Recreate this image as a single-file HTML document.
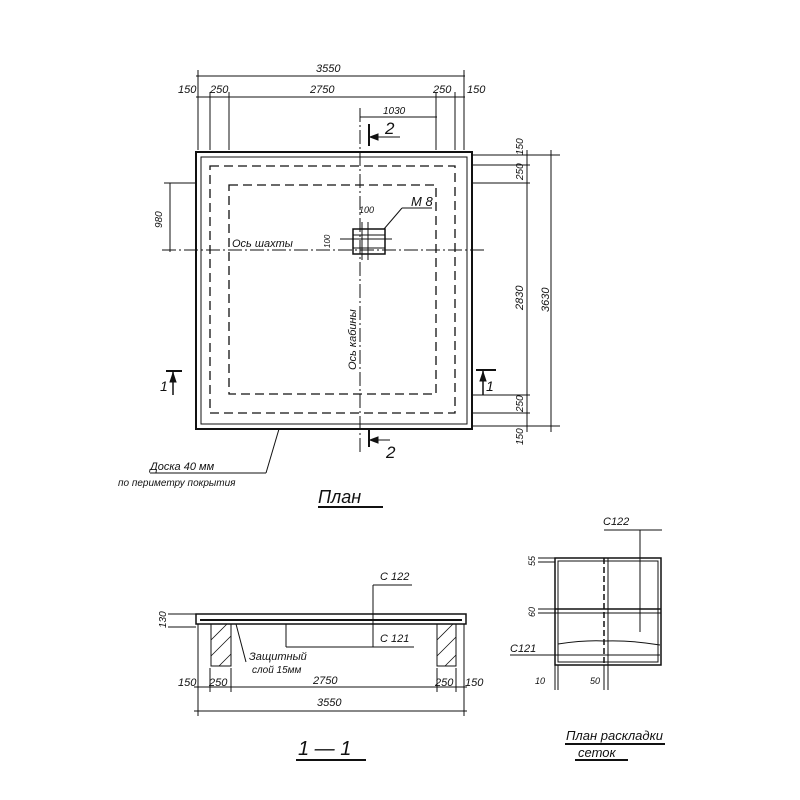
<!DOCTYPE html>
<html><head><meta charset="utf-8"><style>
html,body{margin:0;padding:0;background:#fff}
svg{display:block}
text{font-family:"Liberation Sans","DejaVu Sans",sans-serif;font-style:italic;fill:#111}
</style></head><body>
<svg width="800" height="800" viewBox="0 0 800 800" xmlns="http://www.w3.org/2000/svg">
<g stroke="#111" fill="none" stroke-width="1">
<line x1="196" y1="76" x2="465" y2="76"/>
<line x1="196" y1="97" x2="465" y2="97"/>
<line x1="198" y1="70" x2="198" y2="150"/>
<line x1="464" y1="70" x2="464" y2="150"/>
<line x1="210" y1="92" x2="210" y2="150"/>
<line x1="229" y1="92" x2="229" y2="150"/>
<line x1="436" y1="92" x2="436" y2="150"/>
<line x1="455" y1="92" x2="455" y2="150"/>
<line x1="360" y1="117" x2="437" y2="117"/>
<line x1="369" y1="124" x2="369" y2="146" stroke-width="2"/>
<line x1="369" y1="137" x2="400" y2="137"/>
<path d="M370 137 L378 134 L378 140 Z" fill="#111"/>
<line x1="369" y1="430" x2="369" y2="447" stroke-width="2"/>
<line x1="369" y1="440" x2="390" y2="440"/>
<path d="M370 440 L378 437 L378 443 Z" fill="#111"/>
<rect x="196" y="152" width="276" height="277" stroke-width="2"/>
<rect x="201" y="157" width="266" height="267" stroke-width="1"/>
<rect x="210" y="166" width="245" height="247" stroke-dasharray="9,5" stroke-width="1.3"/>
<rect x="229" y="185" width="207" height="209" stroke-dasharray="9,5" stroke-width="1.3"/>
<line x1="360" y1="108" x2="360" y2="452" stroke-dasharray="14,3,2,3"/>
<line x1="162" y1="250" x2="485" y2="250" stroke-dasharray="14,3,2,3"/>
<line x1="170" y1="183" x2="170" y2="252"/>
<line x1="164" y1="183" x2="195" y2="183"/>
<rect x="353" y="229" width="32" height="25" stroke-width="1.5"/>
<line x1="353" y1="235" x2="385" y2="235"/>
<line x1="353" y1="248" x2="385" y2="248"/>
<line x1="362" y1="222" x2="362" y2="260"/><line x1="368" y1="222" x2="368" y2="260"/>
<line x1="340" y1="239" x2="392" y2="239"/>
<line x1="384" y1="229" x2="402" y2="208"/><line x1="402" y1="208" x2="432" y2="208"/>
<line x1="472" y1="155" x2="560" y2="155"/>
<line x1="472" y1="165" x2="530" y2="165"/>
<line x1="472" y1="183" x2="530" y2="183"/>
<line x1="472" y1="395" x2="530" y2="395"/>
<line x1="472" y1="413" x2="530" y2="413"/>
<line x1="472" y1="426" x2="560" y2="426"/>
<line x1="527" y1="150" x2="527" y2="432"/>
<line x1="551" y1="150" x2="551" y2="432"/>
<line x1="166" y1="371" x2="182" y2="371" stroke-width="2"/><line x1="173" y1="371" x2="173" y2="395" stroke-width="1.5"/>
<path d="M173 373 L170 382 L176 382 Z" fill="#111"/>
<line x1="476" y1="370" x2="496" y2="370" stroke-width="2"/><line x1="483" y1="370" x2="483" y2="395" stroke-width="1.5"/>
<path d="M483 372 L480 381 L486 381 Z" fill="#111"/>
<line x1="150" y1="473" x2="266" y2="473"/><line x1="266" y1="473" x2="279" y2="429"/>
<line x1="318" y1="507" x2="383" y2="507" stroke-width="2"/>
<rect x="196" y="614" width="270" height="10" stroke-width="1.5"/>
<line x1="200" y1="620" x2="462" y2="620" stroke-width="2"/>
<rect x="211" y="624" width="20" height="42"/>
<rect x="437" y="624" width="19" height="42"/>
<g stroke-width="0.8">
<line x1="211" y1="640" x2="227" y2="624"/><line x1="211" y1="656" x2="231" y2="636"/><line x1="219" y1="666" x2="231" y2="654"/>
<line x1="437" y1="640" x2="453" y2="624"/><line x1="437" y1="656" x2="456" y2="637"/><line x1="445" y1="666" x2="456" y2="655"/>
</g>
<line x1="373" y1="585" x2="373" y2="647"/><line x1="373" y1="585" x2="412" y2="585"/>
<line x1="286" y1="624" x2="286" y2="647"/><line x1="286" y1="647" x2="414" y2="647"/>
<line x1="236" y1="624" x2="246" y2="662"/>
<line x1="194" y1="687" x2="467" y2="687"/>
<line x1="194" y1="711" x2="467" y2="711"/>
<line x1="198" y1="624" x2="198" y2="716"/><line x1="464" y1="624" x2="464" y2="716"/>
<line x1="210" y1="668" x2="210" y2="692"/><line x1="231" y1="668" x2="231" y2="692"/>
<line x1="437" y1="668" x2="437" y2="692"/><line x1="456" y1="668" x2="456" y2="692"/>
<line x1="168" y1="614" x2="196" y2="614"/><line x1="168" y1="627" x2="196" y2="627"/>
<line x1="296" y1="760" x2="366" y2="760" stroke-width="2"/>
<rect x="555" y="558" width="106" height="107" stroke-width="1.5"/>
<rect x="558" y="561" width="100" height="101"/>
<line x1="555" y1="609" x2="661" y2="609" stroke-width="1.5"/><line x1="555" y1="613" x2="661" y2="613"/>
<line x1="604" y1="558" x2="604" y2="665" stroke-dasharray="6,3" stroke-width="1.5"/>
<line x1="608" y1="558" x2="608" y2="665"/>
<line x1="640" y1="530" x2="640" y2="632"/><line x1="604" y1="530" x2="662" y2="530"/>
<path d="M558 644 Q585 640 604 641 Q630 640 660 645"/>
<line x1="510" y1="655" x2="660" y2="655"/>
<line x1="538" y1="558" x2="555" y2="558"/><line x1="538" y1="562" x2="555" y2="562"/>
<line x1="538" y1="609" x2="555" y2="609"/><line x1="538" y1="613" x2="555" y2="613"/>
<line x1="555" y1="665" x2="555" y2="690"/><line x1="558" y1="665" x2="558" y2="690"/>
<line x1="604" y1="665" x2="604" y2="690"/><line x1="608" y1="665" x2="608" y2="690"/>
<line x1="565" y1="744" x2="665" y2="744" stroke-width="2"/>
<line x1="575" y1="760" x2="628" y2="760" stroke-width="2"/>
</g>
<g font-size="11">
<text x="316" y="72">3550</text>
<text x="178" y="93">150</text><text x="210" y="93">250</text><text x="310" y="93">2750</text>
<text x="433" y="93">250</text><text x="467" y="93">150</text>
<text x="383" y="114" font-size="10">1030</text>
<text x="232" y="247" font-size="11">Ось шахты</text>
<text x="411" y="206" font-size="13">М 8</text>
<text x="359" y="213" font-size="9">100</text>
<text x="313" y="684" font-size="11">2750</text>
<text x="317" y="706">3550</text>
<text x="178" y="686">150</text><text x="209" y="686">250</text>
<text x="435" y="686">250</text><text x="465" y="686">150</text>
<text x="380" y="580">С 122</text>
<text x="380" y="642">С 121</text>
<text x="249" y="660">Защитный</text>
<text x="252" y="673" font-size="10">слой 15мм</text>
<text x="603" y="525">С122</text>
<text x="510" y="652">С121</text>
<text x="535" y="684" font-size="9">10</text><text x="590" y="684" font-size="9">50</text>
<text x="150" y="470">Доска 40 мм</text>
<text x="118" y="486" font-size="10">по периметру покрытия</text>
<text x="566" y="740" font-size="13">План раскладки</text>
<text x="578" y="757" font-size="13">сеток</text>
</g>
<text x="318" y="503" font-size="18">План</text>
<text x="298" y="755" font-size="20">1 — 1</text>
<text x="385" y="134" font-size="17" font-style="normal">2</text>
<text x="386" y="458" font-size="17" font-style="normal">2</text>
<text x="160" y="391" font-size="14" font-style="normal">1</text>
<text x="486" y="391" font-size="14" font-style="normal">1</text>
<g font-size="10">
<text transform="translate(162,228) rotate(-90)">980</text>
<text transform="translate(330,248) rotate(-90)" font-size="8">100</text>
<text transform="translate(356,370) rotate(-90)" font-size="11">Ось кабины</text>
<text transform="translate(523,155) rotate(-90)">150</text>
<text transform="translate(523,180) rotate(-90)">250</text>
<text transform="translate(523,310) rotate(-90)" font-size="11">2830</text>
<text transform="translate(549,312) rotate(-90)" font-size="11">3630</text>
<text transform="translate(523,412) rotate(-90)">250</text>
<text transform="translate(523,445) rotate(-90)">150</text>
<text transform="translate(166,628) rotate(-90)">130</text>
<text transform="translate(535,566) rotate(-90)" font-size="9">55</text>
<text transform="translate(535,617) rotate(-90)" font-size="9">60</text>
</g>
</svg>
</body></html>
